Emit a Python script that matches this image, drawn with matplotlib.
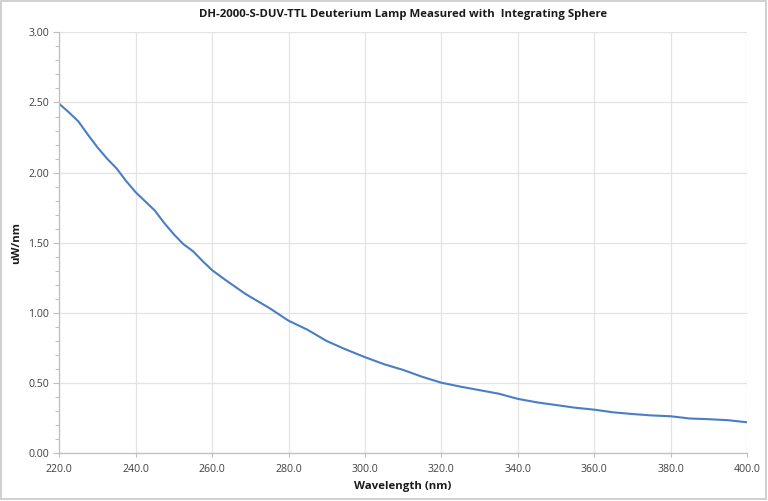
import numpy as np
import matplotlib
matplotlib.use("Agg")
import matplotlib.pyplot as plt
from matplotlib.ticker import MultipleLocator, FormatStrFormatter
from matplotlib.patches import Rectangle

wavelength = [220, 222.5, 225, 227.5, 230, 232.5, 235, 237.5, 240, 242.5, 245, 247.5,
              250, 252.5, 255, 257.5, 260, 263.5, 268.5, 270, 275, 280, 285, 290,
              295, 300, 305, 310, 315, 320, 325, 330, 335, 340, 345, 350, 355,
              360, 365, 370, 375, 380, 385, 390, 395, 400]
power = [2.49, 2.43, 2.365, 2.27, 2.18, 2.10, 2.03, 1.94, 1.86, 1.795, 1.73, 1.64,
         1.56, 1.49, 1.44, 1.37, 1.305, 1.235, 1.14, 1.115, 1.035, 0.945, 0.88, 0.80,
         0.74, 0.685, 0.635, 0.594, 0.545, 0.503, 0.475, 0.45, 0.425, 0.388, 0.363, 0.344, 0.325,
         0.311, 0.292, 0.28, 0.27, 0.264, 0.248, 0.243, 0.236, 0.221]

title = "DH-2000-S-DUV-TTL Deuterium Lamp Measured with  Integrating Sphere"
xlabel = "Wavelength (nm)"
ylabel = "uW/nm"

plt.rcParams['font.family'] = ['Open Sans', 'DejaVu Sans']

fig = plt.figure(figsize=(7.68, 5.01), dpi=100)
ax = fig.add_axes([0.0772, 0.0952, 0.8955, 0.8403])

ax.plot(wavelength, power, color='#4a7ec4', linewidth=1.5)

ax.set_xlim(220, 400)
ax.set_ylim(0, 3.0)
ax.xaxis.set_major_locator(MultipleLocator(20))
ax.xaxis.set_major_formatter(FormatStrFormatter('%.1f'))
ax.yaxis.set_major_locator(MultipleLocator(0.5))
ax.yaxis.set_minor_locator(MultipleLocator(0.1))
ax.yaxis.set_major_formatter(FormatStrFormatter('%.2f'))

ax.grid(True, which='major', color='#e3e3e3', linewidth=0.9)
ax.set_axisbelow(True)
for s in ['top', 'right']:
    ax.spines[s].set_visible(False)
for s in ['left', 'bottom']:
    ax.spines[s].set_color('#bfbfbf')
    ax.spines[s].set_linewidth(0.9)

ax.tick_params(axis='both', which='major', labelsize=7.6, colors='#bfbfbf',
               labelcolor='#404040', length=4, width=0.8)
ax.tick_params(axis='y', which='minor', length=3, color='#bfbfbf', width=0.8)
ax.tick_params(axis='x', which='major', length=3, pad=5)

ax.set_title(title, fontsize=8.2, fontweight='bold', color='#1a1a1a', pad=11)
ax.set_xlabel(xlabel, fontsize=8.2, fontweight='bold', color='#1a1a1a', labelpad=4)
ax.set_ylabel(ylabel, fontsize=8.2, fontweight='bold', color='#1a1a1a', labelpad=4)

fig.patches.append(Rectangle((0.001, 0.003), 0.997, 0.995, transform=fig.transFigure,
                             fill=False, edgecolor='#c8c8c8', linewidth=1.2))

fig.savefig("out.png", dpi=100)
